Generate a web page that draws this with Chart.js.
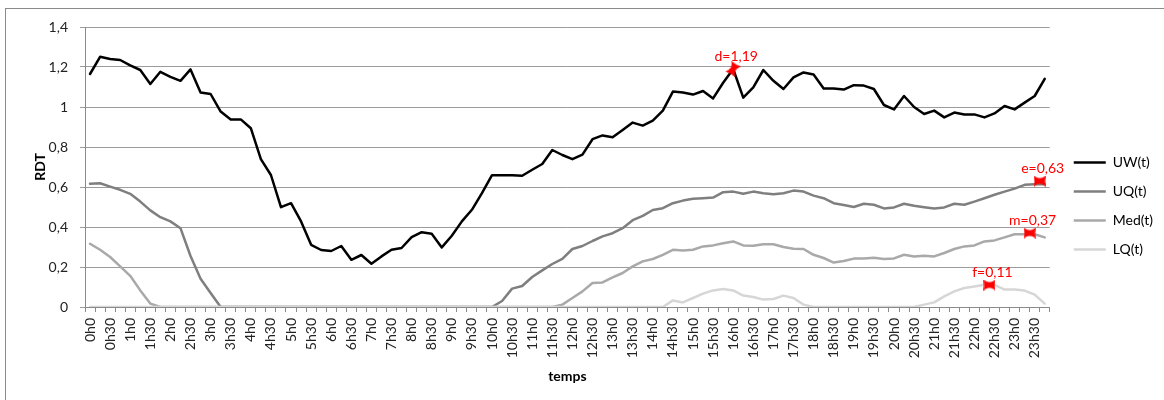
<!DOCTYPE html>
<html>
<head>
<meta charset="utf-8">
<title>RDT</title>
<script src="https://cdn.jsdelivr.net/npm/chart.js@4.4.1/dist/chart.umd.min.js"></script>
<style>
  html, body { margin: 0; padding: 0; background: #fff; overflow: hidden; }
  .chartBox { position: relative; width: 1164px; height: 400px; overflow: hidden; }
  .frame {
    position: absolute; left: 5px; top: 8px; width: 1200px; height: 440px;
    border-left: 1px solid #8a8a8a; border-top: 1px solid #8a8a8a;
  }
  #myChart { position: absolute; left: 0; top: 0; }
</style>
</head>
<body>
<div class="chartBox">
  <div class="frame"></div>
  <canvas id="myChart" width="1164" height="400"></canvas>
</div>
<script>
// one category per quarter hour, only full and half hours get a label
const categories = [];
for (let h = 0; h < 24; h++) {
  for (const m of [0, 15, 30, 45]) categories.push(h + "h" + m);
}

const uw = [
  1.165, 1.251, 1.24, 1.235, 1.208, 1.185, 1.115, 1.176, 1.151, 1.131, 1.188, 1.073,
  1.065, 0.977, 0.938, 0.938, 0.894, 0.739, 0.66, 0.499, 0.519, 0.428, 0.311, 0.285,
  0.28, 0.305, 0.236, 0.26, 0.216, 0.253, 0.286, 0.295, 0.349, 0.374, 0.366, 0.298,
  0.356, 0.428, 0.486, 0.569, 0.659, 0.659, 0.659, 0.656, 0.686, 0.715, 0.785, 0.76,
  0.739, 0.762, 0.839, 0.858, 0.849, 0.885, 0.922, 0.907, 0.932, 0.982, 1.077, 1.072,
  1.062, 1.08, 1.043, 1.121, 1.19, 1.047, 1.098, 1.185, 1.131, 1.09, 1.148, 1.173,
  1.163, 1.093, 1.093, 1.087, 1.109, 1.107, 1.09, 1.01, 0.988, 1.055, 1.0, 0.965,
  0.982, 0.948, 0.972, 0.963, 0.963, 0.948, 0.968, 1.005, 0.988, 1.022, 1.055, 1.141
];
const uq = [
  0.616, 0.619, 0.602, 0.586, 0.566, 0.527, 0.483, 0.449, 0.428, 0.394, 0.255, 0.141,
  0.07, 0, 0, 0, 0, 0, 0, 0, 0, 0, 0, 0,
  0, 0, 0, 0, 0, 0, 0, 0, 0, 0, 0, 0,
  0, 0, 0, 0, 0, 0.03, 0.092, 0.105, 0.15, 0.183, 0.215, 0.241,
  0.29, 0.305, 0.33, 0.353, 0.369, 0.394, 0.434, 0.456, 0.485, 0.494, 0.519, 0.532,
  0.541, 0.544, 0.547, 0.574, 0.577, 0.566, 0.577, 0.569, 0.564, 0.569, 0.582, 0.577,
  0.557, 0.544, 0.519, 0.51, 0.5, 0.516, 0.511, 0.493, 0.498, 0.516, 0.506, 0.499,
  0.493, 0.498, 0.516, 0.511, 0.527, 0.544, 0.561, 0.577, 0.592, 0.611, 0.614, 0.614
];
const med = [
  0.316, 0.286, 0.25, 0.203, 0.156, 0.083, 0.017, 0, 0, 0, 0, 0,
  0, 0, 0, 0, 0, 0, 0, 0, 0, 0, 0, 0,
  0, 0, 0, 0, 0, 0, 0, 0, 0, 0, 0, 0,
  0, 0, 0, 0, 0, 0, 0, 0, 0, 0, 0, 0.012,
  0.045, 0.078, 0.12, 0.123, 0.148, 0.17, 0.203, 0.228, 0.24, 0.261, 0.286, 0.283,
  0.286, 0.303, 0.308, 0.319, 0.328, 0.308, 0.306, 0.314, 0.314, 0.3, 0.291, 0.29,
  0.261, 0.245, 0.222, 0.23, 0.242, 0.243, 0.246, 0.24, 0.243, 0.261, 0.253, 0.256,
  0.253, 0.27, 0.29, 0.303, 0.308, 0.328, 0.333, 0.348, 0.364, 0.364, 0.364, 0.348
];
const lq = [
  0, 0, 0, 0, 0, 0, 0, 0, 0, 0, 0, 0,
  0, 0, 0, 0, 0, 0, 0, 0, 0, 0, 0, 0,
  0, 0, 0, 0, 0, 0, 0, 0, 0, 0, 0, 0,
  0, 0, 0, 0, 0, 0, 0, 0, 0, 0, 0, 0,
  0, 0, 0, 0, 0, 0, 0, 0, 0, 0, 0.033, 0.023,
  0.045, 0.067, 0.083, 0.09, 0.083, 0.057, 0.05, 0.037, 0.04, 0.057, 0.045, 0.012,
  0, 0, 0, 0, 0, 0, 0, 0, 0, 0, 0, 0.012,
  0.023, 0.053, 0.078, 0.095, 0.103, 0.111, 0.111, 0.087, 0.087, 0.082, 0.062, 0.017
];

// red annotations: name, position (in quarter-hour index) and value
const markerNames = ["d", "e", "m", "f"];
const markerPos = [64, 94.5, 93.5, 89.5];
const markerValues = [1.19, 0.63, 0.37, 0.11];

const fmt = (v) => String(Number(v.toFixed(2))).replace(".", ",");

// small red bow-tie used for the annotation points
function makeMarker(w, h) {
  const c = document.createElement("canvas");
  c.width = w;
  c.height = h;
  const g = c.getContext("2d");
  g.fillStyle = "#ff0000";
  g.beginPath();
  g.moveTo(0, 0);
  g.quadraticCurveTo(w / 2, h * 0.5, w, 0);
  g.quadraticCurveTo(w * 0.9, h / 2, w, h);
  g.quadraticCurveTo(w / 2, h * 0.5, 0, h);
  g.quadraticCurveTo(w * 0.1, h / 2, 0, 0);
  g.fill();
  return c;
}
const marker = makeMarker(12, 11);

const markerLabels = {
  id: "markerLabels",
  afterDatasetsDraw(chart) {
    const meta = chart.getDatasetMeta(4);
    const ctx = chart.ctx;
    ctx.save();
    ctx.font = "14px Lato";
    ctx.fillStyle = "#ff0000";
    ctx.textAlign = "center";
    ctx.textBaseline = "middle";
    meta.data.forEach((pt, i) => {
      ctx.fillText(markerNames[i] + "=" + fmt(markerValues[i]), pt.x + 3, pt.y - 13);
    });
    ctx.restore();
  },
};

// push the legend column a bit away from the plot
const legendNudge = {
  id: "legendNudge",
  afterLayout(chart) {
    chart.legend.left += 9;
    chart.legend.right += 9;
  },
};

Chart.defaults.font.family = "Lato";
Chart.defaults.font.size = 14;
Chart.defaults.color = "#222";

const line = (label, data, color, order) => ({
  label,
  data,
  borderColor: color,
  backgroundColor: color,
  borderWidth: 2.5,
  pointRadius: 0,
  tension: 0,
  borderJoinStyle: "round",
  borderCapStyle: "round",
  order,
});

const canvas = document.getElementById("myChart");
canvas.chart = new Chart(canvas.getContext("2d"), {
  type: "line",
  data: {
    labels: categories,
    datasets: [
      line("UW(t)", uw, "#000000", 3),
      line("UQ(t)", uq, "#7f7f7f", 2),
      line("Med(t)", med, "#a9a9a9", 1),
      line("LQ(t)", lq, "#d6d6d6", 0),
      {
        label: "marks",
        data: markerPos.map((x, i) => ({ x, y: markerValues[i] })),
        xAxisID: "xm",
        showLine: false,
        pointStyle: marker,
        pointRadius: 6,
        pointRotation: (c) => (c.dataIndex === 0 ? -60 : 0),
        order: -1,
      },
    ],
  },
  options: {
    responsive: false,
    animation: false,
    devicePixelRatio: 1,
    layout: { padding: { top: 27, right: 10, bottom: 15, left: 0 } },
    scales: {
      x: {
        offset: true,
        grid: {
          offset: true,
          drawOnChartArea: false,
          drawTicks: true,
          tickLength: 5,
          color: "#8a8a8a",
        },
        border: { color: "#8a8a8a" },
        ticks: {
          autoSkip: false,
          minRotation: 90,
          maxRotation: 90,
          padding: 6,
          color: "#222",
          callback: function (value, index) {
            return index % 2 ? "" : this.getLabelForValue(value);
          },
        },
        title: {
          display: true,
          text: "temps",
          font: { weight: "bold", size: 14 },
          color: "#000",
          padding: { top: 0, bottom: 0 },
        },
        afterFit(scale) {
          scale.height = 78;
        },
      },
      xm: {
        type: "linear",
        display: false,
        min: -0.5,
        max: 95.5,
      },
      y: {
        min: 0,
        max: 1.4,
        ticks: {
          stepSize: 0.2,
          padding: 12,
          color: "#222",
          callback: (v) => fmt(v),
        },
        grid: { color: "#9c9c9c", tickLength: 5 },
        border: { color: "#8a8a8a" },
        title: {
          display: true,
          text: "RDT",
          font: { weight: "bold", size: 14 },
          color: "#000",
          padding: { top: 32, bottom: 0 },
        },
        afterFit(scale) {
          scale.width = 85;
        },
      },
    },
    plugins: {
      legend: {
        position: "right",
        reverse: true,
        labels: {
          usePointStyle: true,
          pointStyle: "line",
          pointStyleWidth: 32,
          padding: 15,
          color: "#000",
          font: { size: 14 },
          filter: (item) => item.datasetIndex < 4,
        },
      },
      tooltip: { enabled: false },
    },
  },
  plugins: [markerLabels, legendNudge],
});
</script>
</body>
</html>
